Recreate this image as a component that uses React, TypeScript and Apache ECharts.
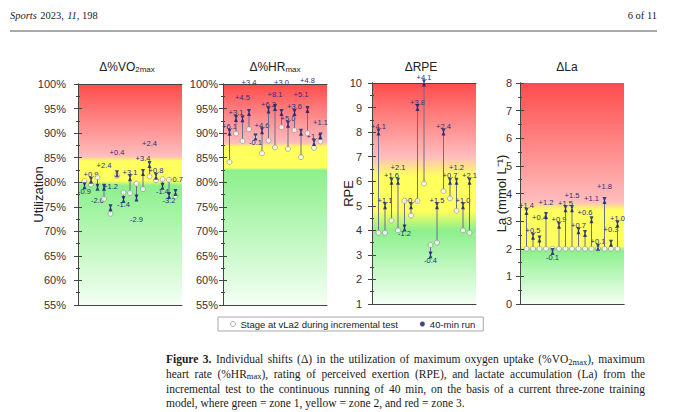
import React, { useEffect, useRef } from 'react';
import * as echarts from 'echarts';

// ---------- data ----------
const SUBJECTS = [1, 2, 3, 4, 5, 6, 7, 8, 9, 10, 11, 12, 13, 14, 15];

const VO2_STAGE = [80.2, 79.5, 81.0, 76.6, 73.6, 81.3, 77.9, 77.8, 79.7, 78.6, 81.2, 80.4, 80.6, 80.5, 77.2];
const VO2_RUN = [79.3, 80.4, 79.0, 79.0, 74.8, 81.7, 76.5, 80.9, 76.8, 82.0, 83.6, 81.2, 79.2, 77.3, 77.9];
const VO2_DELTA = ['-0.9', '+0.9', '-2.0', '+2.4', '+1.2', '+0.4', '-1.4', '+3.1', '-2.9', '+3.4', '+2.4', '+0.8', '-1.4', '-3.2', '+0.7'];

const HR_STAGE = [84.1, 89.9, 88.4, 90.8, 89.3, 85.9, 88.5, 87.1, 91.2, 86.8, 90.6, 85.1, 90.0, 87.0, 88.3];
const HR_RUN = [90.2, 93.0, 92.9, 94.2, 89.2, 90.5, 94.7, 95.2, 94.2, 91.8, 94.2, 90.2, 94.8, 88.1, 89.4];
const HR_DELTA = ['+6.1', '+3.1', '+4.5', '+3.4', '-0.1', '+4.6', '+6.2', '+8.1', '+3.0', '+5.0', '+3.6', '+5.1', '+4.8', '+1.1', '+1.1'];

const RPE_STAGE = [3.9, 3.9, 4.4, 4.0, 5.2, 4.6, 5.2, 5.9, 3.4, 3.5, 5.6, 5.3, 4.8, 4.0, 3.9];
const RPE_RUN = [8.0, 5.0, 6.0, 6.0, 4.1, 5.0, 9.0, 10.0, 3.0, 5.0, 8.0, 6.0, 6.0, 5.0, 6.0];
const RPE_DELTA = ['+4.1', '+1.1', '+1.6', '+2.1', '-1.2', '+0.4', '+3.8', '+4.1', '-0.4', '+1.5', '+2.4', '+0.7', '+1.2', '+1.0', '+2.1'];

const LA_STAGE = [2.0, 2.0, 2.0, 2.0, 2.0, 2.0, 2.0, 2.0, 2.0, 2.0, 2.0, 2.0, 2.0, 2.0, 2.0];
const LA_RUN = [3.35, 2.45, 2.35, 3.2, 1.9, 2.85, 3.45, 3.45, 2.65, 2.55, 3.05, 2.05, 3.75, 2.2, 2.9];
const LA_DELTA = ['+1.4', '+0.5', '+0.4', '+1.2', '-0.1', '+0.9', '+1.5', '+1.5', '+0.7', '+0.6', '+1.1', '+0.1', '+1.8', '+0.3', '+1.0'];

// zone limits: [green/yellow boundary, yellow/red boundary]
const VO2_ZONES = [79.8, 84.8];
const HR_ZONES = [82.7, 87.6];
const RPE_ZONES = [4.4, 6.6];
const LA_ZONES = [2.02, 3.55];

const STAGE_NAME = 'Stage at vLa2 during incremental test';
const RUN_NAME = '40-min run';

const CAPTION = [
  'Figure 3. Individual shifts (Δ) in the utilization of maximum oxygen uptake (%VO_2max_), maximum',
  'heart rate (%HR_max_), rating of perceived exertion (RPE), and lactate accumulation (La) from the',
  'incremental test to the continuous running of 40 min, on the basis of a current three-zone training',
  'model, where green = zone 1, yellow = zone 2, and red = zone 3.',
];

// ---------- helpers ----------
const SANS = 'Liberation Sans';
const SERIF = 'Liberation Serif';

function zoneGradient(min: number, max: number, g: number, bg: number, r: number, br: number) {
  const off = (v: number) => Math.min(1, Math.max(0, (max - v) / (max - min)));
  return new echarts.graphic.LinearGradient(0, 0, 0, 1, [
    { offset: 0, color: '#ff4c4c' },
    { offset: off(r + br), color: '#ffbdbd' },
    { offset: off(r - br), color: '#ffff5e' },
    { offset: off(g + bg), color: '#ffff5e' },
    { offset: off(g - bg), color: '#8cf08c' },
    { offset: 1, color: '#f4fff4' },
  ]);
}

export default function App() {
  const ref = useRef<HTMLDivElement>(null);

  useEffect(() => {
    if (!ref.current) return;
    const chart = echarts.init(ref.current, undefined, { renderer: 'svg' });

    const panels = [
      { stage: VO2_STAGE, run: VO2_RUN, delta: VO2_DELTA, min: 55, max: 100, interval: 5, fmt: '{value}%', name: 'Utilization', nameX: 38.5, margin: 12, left: 78, top: 84, zones: VO2_ZONES, bg: 0.5, br: 0.5, title: '{a|Δ%VO}{s|2max}', titleX: 127 },
      { stage: HR_STAGE, run: HR_RUN, delta: HR_DELTA, min: 55, max: 100, interval: 5, fmt: '{value}%', name: '', nameX: 0, margin: 5, left: 223, top: 84, zones: HR_ZONES, bg: 0.3, br: 0.4, title: '{a|Δ%HR}{s|max}', titleX: 275 },
      { stage: RPE_STAGE, run: RPE_RUN, delta: RPE_DELTA, min: 1, max: 10, interval: 1, fmt: '{value}', name: 'RPE', nameX: 348, margin: 10, left: 372, top: 83, zones: RPE_ZONES, bg: 0.4, br: 0.4, title: '{a|ΔRPE}', titleX: 421 },
      { stage: LA_STAGE, run: LA_RUN, delta: LA_DELTA, min: 0, max: 8, interval: 1, fmt: '{value}', name: 'La (mmol L⁻¹)', nameX: 501, margin: 8, left: 520, top: 83, zones: LA_ZONES, bg: 0.07, br: 0.15, title: '{a|ΔLa}', titleX: 567 },
    ];
    const PW = 104, PH = 221;
    const LFS = 7.5;

    const grid: any[] = [];
    const xAxis: any[] = [];
    const yAxis: any[] = [];
    const series: any[] = [];
    const graphic: any[] = [];

    const axisLine = { show: true, lineStyle: { color: '#444', width: 1 } };

    panels.forEach((p, i) => {
      grid.push({ left: p.left, top: p.top, width: PW, height: PH });
      const xBase = { type: 'value', gridIndex: i, min: 0, max: 16, z: 10, axisLine, axisTick: { show: false }, axisLabel: { show: false }, splitLine: { show: false } };
      xAxis.push({ ...xBase, position: 'bottom' });
      xAxis.push({ ...xBase, position: 'top' });
      const yBase = {
        type: 'value', gridIndex: i, min: p.min, max: p.max, interval: p.interval, z: 10,
        axisLine,
        axisTick: { show: true, length: 4, lineStyle: { color: '#444' } },
        minorTick: { show: true, splitNumber: 2, length: 2, lineStyle: { color: '#444' } },
        splitLine: { show: false },
        minorSplitLine: { show: false },
      };
      yAxis.push({
        ...yBase, position: 'left',
        axisLabel: { show: true, formatter: p.fmt, fontSize: 11, color: '#333', fontFamily: SANS, margin: p.margin },
      });
      yAxis.push({ ...yBase, position: 'right', axisLabel: { show: false } });

      if (p.name) {
        graphic.push({
          type: 'text', x: p.nameX, y: p.top + PH / 2, rotation: Math.PI / 2,
          style: { text: p.name, fontSize: 13, fontFamily: SANS, fill: '#222', align: 'center', verticalAlign: 'middle', textAlign: 'center', textVerticalAlign: 'middle' },
        });
      }

      const xi = 2 * i, yi = 2 * i;
      const grad = zoneGradient(p.min, p.max, p.zones[0], p.bg, p.zones[1], p.br);
      series.push({
        type: 'custom', xAxisIndex: xi, yAxisIndex: yi, z: 1, silent: true,
        data: [[p.min, p.max]],
        renderItem: (_params: any, api: any) => {
          const a = api.coord([0, api.value(1)]);
          const b = api.coord([16, api.value(0)]);
          return { type: 'rect', shape: { x: a[0], y: a[1], width: b[0] - a[0], height: b[1] - a[1] }, style: { fill: grad } };
        },
      });
      const deltas = p.delta;
      const stage = p.stage, run = p.run;
      // stagger labels so that neighbouring labels do not collide
      const labelYs = (api: any) => {
        const pts = SUBJECTS.map((s, j) => {
          const a = api.coord([s, stage[j]]);
          const b = api.coord([s, run[j]]);
          return { x: a[0], top: Math.min(a[1], b[1]), bot: Math.max(a[1], b[1]) };
        });
        const ys: number[] = [];
        pts.forEach((pt, j) => {
          const neg = deltas[j].startsWith('-');
          const dir = neg ? 1 : -1;
          const base = neg ? pt.bot + 5.5 : pt.top - 5.5;
          let y = base;
          for (let k = 0; k < 5; k++) {
            y = base + dir * k * 8;
            const clash = [j - 1, j - 2].some((m) => m >= 0 && Math.abs(ys[m] - y) < 8 && Math.abs(pts[m].x - pt.x) < 15);
            if (!clash) break;
          }
          ys.push(y);
        });
        return ys;
      };
      series.push({
        type: 'custom', xAxisIndex: xi, yAxisIndex: yi, z: 2, silent: true, clip: false,
        data: SUBJECTS.map((s, j) => [s, stage[j], run[j]]),
        renderItem: (params: any, api: any) => {
          if (!params.context.ys) params.context.ys = labelYs(api);
          const ps = api.coord([api.value(0), api.value(1)]);
          const pr = api.coord([api.value(0), api.value(2)]);
          const lbl = deltas[params.dataIndex];
          return {
            type: 'group',
            children: [
              { type: 'line', shape: { x1: ps[0], y1: ps[1], x2: pr[0], y2: pr[1] }, style: { stroke: '#6c6c90', lineWidth: 1 } },
              {
                type: 'text', x: ps[0], y: params.context.ys[params.dataIndex],
                style: { text: lbl, fill: '#2b2e7e', fontSize: LFS, fontFamily: SANS, align: 'center', verticalAlign: 'middle', textAlign: 'center', textVerticalAlign: 'middle' },
              },
            ],
          };
        },
      });
      series.push({
        type: 'scatter', name: STAGE_NAME, xAxisIndex: xi, yAxisIndex: yi, z: 3, silent: true,
        data: SUBJECTS.map((s, j) => [s, stage[j]]),
        symbol: 'circle', symbolSize: 5,
        itemStyle: { color: '#ffffff', borderColor: '#8a8a8a', borderWidth: 0.8 },
      });
      series.push({
        type: 'scatter', name: RUN_NAME, xAxisIndex: xi, yAxisIndex: yi, z: 4, silent: true,
        data: SUBJECTS.map((s, j) => [s, run[j]]),
        symbol: 'path://M0,0L8,0L5,6L8,12L0,12L3,6Z', symbolSize: [4, 7],
        itemStyle: { color: '#101c68' },
      });

      graphic.push({
        type: 'text', x: p.titleX, y: 66.5,
        style: {
          text: p.title, fill: '#222', align: 'center', verticalAlign: 'middle', textAlign: 'center', textVerticalAlign: 'middle',
          rich: {
            a: { fontSize: 12, fontFamily: SANS, fill: '#222', lineHeight: 14 },
            s: { fontSize: 8, fontFamily: SANS, fill: '#222', lineHeight: 8, verticalAlign: 'bottom' },
          },
        },
      });
    });

    // header
    graphic.push({
      type: 'text', x: 10, y: 15.5,
      style: {
        text: '{i|Sports} {n|2023,} {i|11}{n|, 198}', verticalAlign: 'middle', textVerticalAlign: 'middle',
        rich: {
          i: { fontSize: 10.5, fontFamily: SERIF, fontStyle: 'italic', fill: '#222' },
          n: { fontSize: 10.5, fontFamily: SERIF, fill: '#222' },
        },
      },
    });
    graphic.push({
      type: 'text', x: 657, y: 15.5,
      style: { text: '6 of 11', fontSize: 10.5, fontFamily: SERIF, fill: '#222', align: 'right', textAlign: 'right', verticalAlign: 'middle', textVerticalAlign: 'middle' },
    });
    graphic.push({ type: 'line', shape: { x1: 10, y1: 31, x2: 657, y2: 31 }, style: { stroke: '#8c8c8c', lineWidth: 1.5 } });

    // caption, justified
    const FS = 11.5, SUBFS = 8.5;
    const canvas = document.createElement('canvas');
    const ctx = canvas.getContext('2d')!;
    const fontOf = (k: string) => k === 'b' ? `bold ${FS}px "${SERIF}"` : k === 's' ? `${SUBFS}px "${SERIF}"` : `${FS}px "${SERIF}"`;
    const capLeft = 166, capRight = 645;
    CAPTION.forEach((line, li) => {
      const words = line.split(' ');
      const items = words.map((w, wi) => {
        const parts = w.split('_');
        const segs: [string, string][] = [];
        parts.forEach((t, k) => {
          if (!t) return;
          let kind = k % 2 === 1 ? 's' : 'n';
          if (li === 0 && wi < 2) kind = 'b';
          segs.push([kind, t]);
        });
        let width = 0;
        segs.forEach(([k, t]) => { ctx.font = fontOf(k); width += ctx.measureText(t).width; });
        return { rich: segs.map(([k, t]) => `{${k}|${t}}`).join(''), width };
      });
      ctx.font = fontOf('n');
      const spaceW = ctx.measureText(' ').width;
      const total = items.reduce((s, it) => s + it.width, 0);
      const justify = li < CAPTION.length - 1;
      const gap = justify ? (capRight - capLeft - total) / (items.length - 1) : spaceW;
      let x = capLeft;
      const y = 359 + li * 14.8;
      items.forEach((it) => {
        graphic.push({
          type: 'text', x, y,
          style: {
            text: it.rich, verticalAlign: 'middle', textVerticalAlign: 'middle',
            rich: {
              n: { fontSize: FS, fontFamily: SERIF, fill: '#1a1a1a', lineHeight: 14 },
              b: { fontSize: FS, fontFamily: SERIF, fontWeight: 'bold', fill: '#1a1a1a', lineHeight: 14 },
              s: { fontSize: SUBFS, fontFamily: SERIF, fill: '#1a1a1a', lineHeight: 8, verticalAlign: 'bottom' },
            },
          },
        });
        x += it.width + gap;
      });
    });

    chart.setOption({
      animation: false,
      backgroundColor: '#ffffff',
      textStyle: { fontFamily: SANS },
      grid, xAxis, yAxis, series, graphic,
      legend: {
        left: 218, top: 317, orient: 'horizontal', selectedMode: false,
        borderColor: '#a8a8a8', borderWidth: 1, padding: [2, 8, 2, 12],
        itemWidth: 5, itemHeight: 5, itemGap: 22,
        textStyle: { fontSize: 9.5, color: '#222', fontFamily: SANS },
        data: [
          { name: STAGE_NAME, icon: 'circle', itemStyle: { color: '#ffffff', borderColor: '#999', borderWidth: 1 } },
          { name: RUN_NAME, icon: 'circle', itemStyle: { color: '#101c68' } },
        ],
      },
    });

    return () => chart.dispose();
  }, []);

  return <div ref={ref} style={{ position: 'absolute', left: 0, top: 0, width: 680, height: 412, background: '#fff' }} />;
}
